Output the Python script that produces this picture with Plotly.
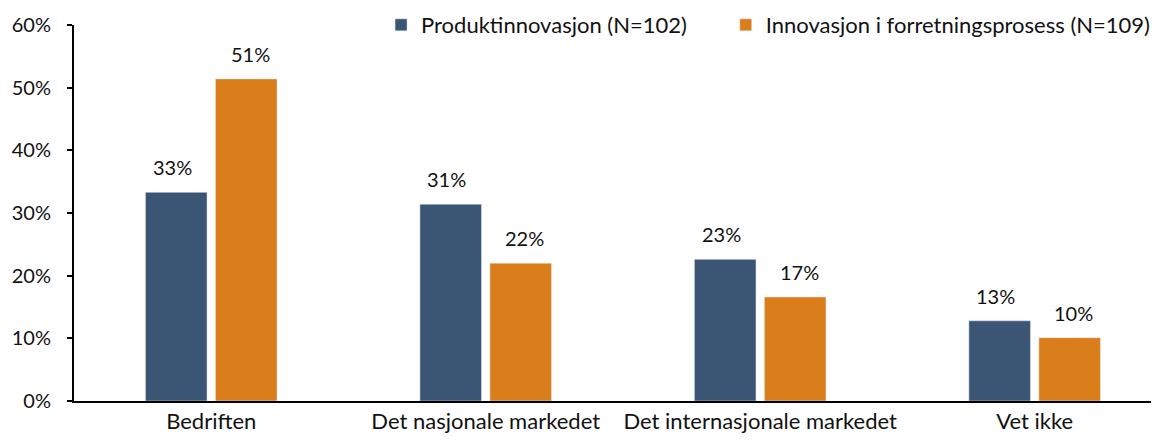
import plotly.graph_objects as go

categories = ["Bedriften", "Det nasjonale markedet", "Det internasjonale markedet", "Vet ikke"]
produkt = [33.3, 31.4, 22.6, 12.8]
forretning = [51.4, 22.0, 16.6, 10.1]
series_names = ["Produktinnovasjon (N=102)", "Innovasjon i forretningsprosess (N=109)"]
tick_vals = [0, 10, 20, 30, 40, 50, 60]
tick_text = [f"{v}%" for v in tick_vals]

BLUE = "#3A5674"
ORANGE = "#D97E1A"
FONT = "Lato, Carlito, Calibri, sans-serif"
SIZE = 22
NUM_SIZE = 20
PAD = "\u00a0" * 6  # widen the gap between the two legend entries

fig = go.Figure()
fig.add_trace(go.Bar(x=categories, y=produkt, name=series_names[0] + PAD, marker=dict(color=BLUE)))
fig.add_trace(go.Bar(x=categories, y=forretning, name=series_names[1], marker=dict(color=ORANGE)))

# value labels above each bar, shifted onto its half of the group
for vals, dx in [(produkt, -39), (forretning, 39)]:
    for cat, v in zip(categories, vals):
        fig.add_annotation(
            x=cat, y=v, text=f"{v:.0f}%", showarrow=False,
            xshift=dx, yshift=11, yanchor="bottom",
            font=dict(size=NUM_SIZE, color="#111111"),
        )

# the page body adds 8px on top/left, so margins are pulled in to compensate
fig.update_layout(
    width=1159, height=441,
    margin=dict(l=66, r=8, t=17, b=48, autoexpand=False),
    barmode="group", bargap=0.49, bargroupgap=0.12,
    paper_bgcolor="white", plot_bgcolor="white",
    font=dict(family=FONT, size=SIZE, color="#111111"),
    showlegend=True,
    legend=dict(
        orientation="h", x=0.283, y=1.0, xanchor="left", yanchor="middle",
        font=dict(size=SIZE), bgcolor="rgba(0,0,0,0)",
        itemwidth=30, tracegroupgap=0,
    ),
)
fig.update_xaxes(
    range=[-0.5, 3.453], showline=True, linecolor="black", linewidth=2,
    ticks="", showgrid=False, tickfont=dict(size=SIZE), automargin=False,
)
fig.update_yaxes(
    range=[0, 60], tickvals=tick_vals, ticktext=tick_text,
    showline=True, linecolor="black", linewidth=2,
    ticks="outside", ticklen=5, tickcolor="black", tickwidth=2,
    ticklabelstandoff=12,
    showgrid=False, zeroline=False, tickfont=dict(size=NUM_SIZE), automargin=False,
)

fig.write_html("out.html")
